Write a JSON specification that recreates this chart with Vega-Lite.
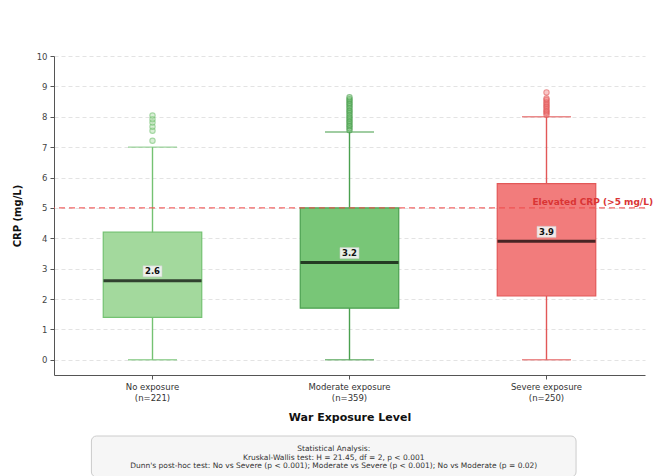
{
  "$schema": "https://vega.github.io/schema/vega-lite/v6.json",
  "padding": {"top": 52, "left": 12, "right": 5, "bottom": 0},
  "background": "white",
  "config": {
    "font": "DejaVu Sans",
    "axis": {"labelFont": "DejaVu Sans", "titleFont": "DejaVu Sans"},
    "axisY": {"tickCount": 11}
  },
  "datasets": {
    "boxes": [
      {"group": "No exposure (n=221)", "lower": 0, "q1": 1.4, "median": 2.6, "q3": 4.2, "upper": 7.0},
      {"group": "Moderate exposure (n=359)", "lower": 0, "q1": 1.7, "median": 3.2, "q3": 5.0, "upper": 7.5},
      {"group": "Severe exposure (n=250)", "lower": 0, "q1": 2.1, "median": 3.9, "q3": 5.8, "upper": 8.0}
    ],
    "outliers": [
      {"group": "No exposure (n=221)", "crp": 7.21},
      {"group": "No exposure (n=221)", "crp": 7.54},
      {"group": "No exposure (n=221)", "crp": 7.67},
      {"group": "No exposure (n=221)", "crp": 7.81},
      {"group": "No exposure (n=221)", "crp": 7.92},
      {"group": "No exposure (n=221)", "crp": 8.04},
      {"group": "Moderate exposure (n=359)", "crp": 7.56},
      {"group": "Moderate exposure (n=359)", "crp": 7.62},
      {"group": "Moderate exposure (n=359)", "crp": 7.69},
      {"group": "Moderate exposure (n=359)", "crp": 7.74},
      {"group": "Moderate exposure (n=359)", "crp": 7.81},
      {"group": "Moderate exposure (n=359)", "crp": 7.86},
      {"group": "Moderate exposure (n=359)", "crp": 7.93},
      {"group": "Moderate exposure (n=359)", "crp": 7.98},
      {"group": "Moderate exposure (n=359)", "crp": 8.04},
      {"group": "Moderate exposure (n=359)", "crp": 8.11},
      {"group": "Moderate exposure (n=359)", "crp": 8.17},
      {"group": "Moderate exposure (n=359)", "crp": 8.22},
      {"group": "Moderate exposure (n=359)", "crp": 8.29},
      {"group": "Moderate exposure (n=359)", "crp": 8.35},
      {"group": "Moderate exposure (n=359)", "crp": 8.41},
      {"group": "Moderate exposure (n=359)", "crp": 8.46},
      {"group": "Moderate exposure (n=359)", "crp": 8.53},
      {"group": "Moderate exposure (n=359)", "crp": 8.58},
      {"group": "Moderate exposure (n=359)", "crp": 8.64},
      {"group": "Severe exposure (n=250)", "crp": 8.07},
      {"group": "Severe exposure (n=250)", "crp": 8.13},
      {"group": "Severe exposure (n=250)", "crp": 8.18},
      {"group": "Severe exposure (n=250)", "crp": 8.24},
      {"group": "Severe exposure (n=250)", "crp": 8.31},
      {"group": "Severe exposure (n=250)", "crp": 8.36},
      {"group": "Severe exposure (n=250)", "crp": 8.42},
      {"group": "Severe exposure (n=250)", "crp": 8.48},
      {"group": "Severe exposure (n=250)", "crp": 8.55},
      {"group": "Severe exposure (n=250)", "crp": 8.6},
      {"group": "Severe exposure (n=250)", "crp": 8.8}
    ],
    "reference": [
      {"crp": 5, "label": "Elevated CRP (>5 mg/L)"}
    ],
    "panel": [
      {"section": "Statistical Analysis"}
    ],
    "stats": [
      {"order": 1, "text": "Statistical Analysis:"},
      {"order": 2, "text": "Kruskal-Wallis test: H = 21.45, df = 2, p < 0.001"},
      {"order": 3, "text": "Dunn's post-hoc test: No vs Severe (p < 0.001); Moderate vs Severe (p < 0.001); No vs Moderate (p = 0.02)"}
    ]
  },
  "vconcat": [
    {
      "width": 591,
      "height": 319,
      "view": {"stroke": null},
      "encoding": {
        "x": {
          "field": "group",
          "type": "nominal",
          "sort": null,
          "scale": {
            "domain": ["No exposure (n=221)", "Moderate exposure (n=359)", "Severe exposure (n=250)"],
            "paddingInner": 0,
            "paddingOuter": 0
          },
          "axis": {
            "title": "War Exposure Level",
            "titleFontSize": 11,
            "titleFontWeight": "bold",
            "titleColor": "#111",
            "titlePadding": 10,
            "labelAngle": 0,
            "labelFontSize": 8.5,
            "labelColor": "#333",
            "labelLineHeight": 11,
            "labelPadding": 3,
            "labelExpr": "split(replace(datum.label, ' (', '|('), '|')",
            "domainColor": "#555",
            "tickColor": "#555",
            "tickSize": 4,
            "grid": false
          }
        }
      },
      "layer": [
        {
          "data": {"name": "boxes"},
          "mark": {"type": "rule", "strokeWidth": 1.4},
          "encoding": {
            "y": {
              "field": "lower",
              "type": "quantitative",
              "scale": {"domain": [-0.5, 10], "nice": false, "zero": false},
              "axis": {
                "title": "CRP (mg/L)",
                "titleFontSize": 10,
                "titleFontWeight": "bold",
                "titleColor": "#111",
                "titlePadding": 14,
                "values": [0, 1, 2, 3, 4, 5, 6, 7, 8, 9, 10],
                "tickCount": 11,
                "labelOverlap": false,
                "labelFontSize": 8.5,
                "labelColor": "#444",
                "labelPadding": 3,
                "domainColor": "#555",
                "tickColor": "#555",
                "tickSize": 4,
                "grid": true,
                "gridColor": "#dcdcdc",
                "gridDash": [4, 3],
                "gridWidth": 0.8
              }
            },
            "y2": {"field": "upper"},
            "stroke": {
              "field": "group",
              "type": "nominal",
              "scale": {
                "domain": ["No exposure (n=221)", "Moderate exposure (n=359)", "Severe exposure (n=250)"],
                "range": ["#74c272", "#4aa04f", "#e25858"]
              },
              "legend": null
            }
          }
        },
        {
          "data": {"name": "boxes"},
          "mark": {"type": "tick", "size": 49, "thickness": 1.4},
          "encoding": {
            "y": {"field": "lower", "type": "quantitative"},
            "color": {"field": "group", "type": "nominal", "scale": {"domain": ["No exposure (n=221)", "Moderate exposure (n=359)", "Severe exposure (n=250)"], "range": ["#74c272", "#4aa04f", "#e25858"]}, "legend": null}
          }
        },
        {
          "data": {"name": "boxes"},
          "mark": {"type": "tick", "size": 49, "thickness": 1.4},
          "encoding": {
            "y": {"field": "upper", "type": "quantitative"},
            "color": {"field": "group", "type": "nominal", "legend": null}
          }
        },
        {
          "data": {"name": "boxes"},
          "mark": {"type": "bar", "width": {"band": 0.5}, "strokeWidth": 1.2},
          "encoding": {
            "y": {"field": "q1", "type": "quantitative"},
            "y2": {"field": "q3"},
            "fill": {
              "field": "group",
              "type": "nominal",
              "scale": {
                "domain": ["No exposure (n=221)", "Moderate exposure (n=359)", "Severe exposure (n=250)"],
                "range": ["#a3d99d", "#78c677", "#f27c7c"]
              },
              "legend": null
            },
            "stroke": {"field": "group", "type": "nominal", "legend": null}
          }
        },
        {
          "data": {"name": "boxes"},
          "mark": {"type": "tick", "size": 98, "thickness": 3, "color": "#000"},
          "encoding": {
            "y": {"field": "median", "type": "quantitative"}
          }
        },
        {
          "data": {"name": "outliers"},
          "mark": {"type": "point", "shape": "circle", "size": 28, "strokeWidth": 1.1, "filled": false},
          "encoding": {
            "y": {"field": "crp", "type": "quantitative"},
            "stroke": {"field": "group", "type": "nominal", "legend": null},
            "fill": {"field": "group", "type": "nominal", "legend": null},
            "fillOpacity": {"value": 0.6},
            "strokeOpacity": {"value": 0.9}
          }
        },
        {
          "data": {"name": "reference"},
          "mark": {"type": "rule", "color": "#ee4b4b", "strokeDash": [6, 4], "strokeWidth": 1.4, "opacity": 0.85},
          "encoding": {
            "x": null,
            "y": {"field": "crp", "type": "quantitative"}
          }
        },
        {
          "data": {"name": "reference"},
          "mark": {"type": "text", "align": "right", "baseline": "bottom", "dx": 8, "dy": -1, "fontSize": 9, "fontWeight": "bold", "color": "#d93434"},
          "encoding": {
            "x": {"value": "width"},
            "y": {"field": "crp", "type": "quantitative"},
            "text": {"field": "label"}
          }
        },
        {
          "data": {"name": "boxes"},
          "mark": {
            "type": "point",
            "shape": "M-0.95,-0.55L0.95,-0.55L0.95,0.55L-0.95,0.55Z",
            "size": 400,
            "filled": true,
            "color": "#f4f4f4",
            "opacity": 0.9,
            "stroke": "#d0d0d0",
            "strokeWidth": 0.6,
            "yOffset": -9.5
          },
          "encoding": {
            "y": {"field": "median", "type": "quantitative"}
          }
        },
        {
          "data": {"name": "boxes"},
          "mark": {"type": "text", "fontSize": 8.5, "fontWeight": "bold", "color": "#111", "baseline": "middle", "dy": -9.5},
          "encoding": {
            "y": {"field": "median", "type": "quantitative"},
            "text": {"field": "median", "type": "quantitative", "format": ".1f"}
          }
        }
      ]
    },
    {
      "width": 591,
      "height": 41,
      "view": {"stroke": null},
      "layer": [
        {
          "data": {"name": "panel"},
          "mark": {"type": "rect", "cornerRadius": 5, "fill": "#f6f6f6", "stroke": "#cccccc", "strokeWidth": 1},
          "encoding": {
            "x": {
              "datum": "No exposure (n=221)",
              "bandPosition": 0.19,
              "type": "nominal",
              "scale": {
                "domain": ["No exposure (n=221)", "Moderate exposure (n=359)", "Severe exposure (n=250)"],
                "paddingInner": 0,
                "paddingOuter": 0
              },
              "axis": null
            },
            "x2": {"datum": "Severe exposure (n=250)", "bandPosition": 0.65}
          }
        },
        {
          "data": {"name": "stats"},
          "mark": {"type": "text", "fontSize": 7.5, "color": "#333", "baseline": "middle"},
          "encoding": {
            "x": {"datum": "Moderate exposure (n=359)", "bandPosition": 0.42, "type": "nominal", "axis": null},
            "y": {"field": "order", "type": "quantitative", "axis": null, "scale": {"domain": [-0.494, 4.22], "reverse": true, "nice": false, "zero": false}},
            "text": {"field": "text"}
          }
        }
      ]
    }
  ],
  "spacing": 12
}
